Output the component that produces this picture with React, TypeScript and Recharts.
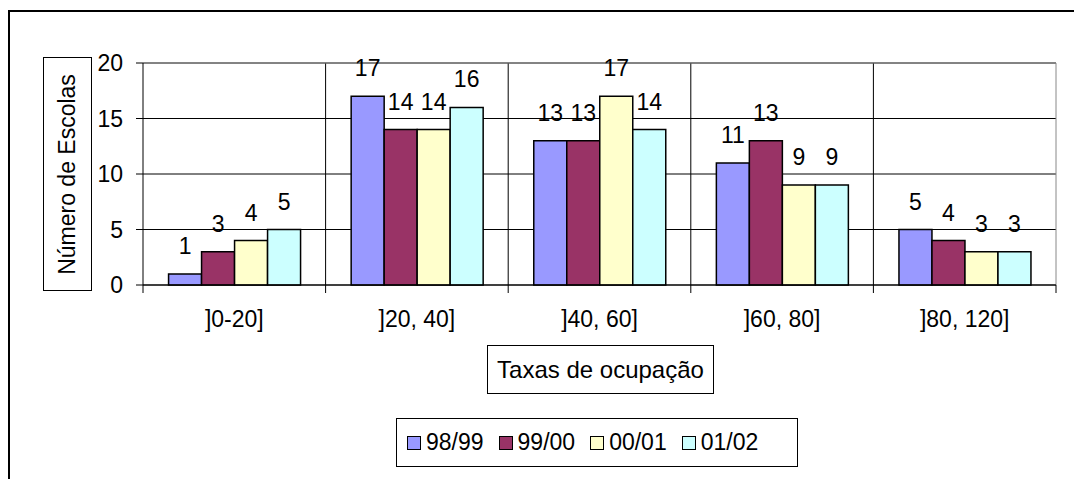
import { BarChart, Bar, XAxis, YAxis, CartesianGrid, LabelList, Legend, ReferenceLine } from "recharts";

const FONT = '"Liberation Sans", Arial, sans-serif';

const categories = ["]0-20]", "]20, 40]", "]40, 60]", "]60, 80]", "]80, 120]"];
const s9899 = [1, 17, 13, 11, 5];
const s9900 = [3, 14, 13, 13, 4];
const s0001 = [4, 14, 17, 9, 3];
const s0102 = [5, 16, 14, 9, 3];
const yTicks = [0, 5, 10, 15, 20];

const series = [
  { key: "98/99", color: "#9999FF" },
  { key: "99/00", color: "#993366" },
  { key: "00/01", color: "#FFFFCC" },
  { key: "01/02", color: "#CCFFFF" },
];

const data = categories.map((c, i) => ({
  cat: c,
  "98/99": s9899[i],
  "99/00": s9900[i],
  "00/01": s0001[i],
  "01/02": s0102[i],
}));

const TICK_SIZE = 8;
const TICK_MARGIN = 18;

// tick marks sit on the category boundaries, labels in the middle
function XTick(props: any) {
  const { x, y, payload, index, visibleTicksCount } = props;
  const half = payload && payload.offset ? payload.offset : 0;
  const axisY = y - TICK_MARGIN - TICK_SIZE;
  const last = index === visibleTicksCount - 1;
  return (
    <g>
      <line x1={x - half} x2={x - half} y1={axisY} y2={axisY + TICK_SIZE} stroke="#000" />
      {last && <line x1={x + half} x2={x + half} y1={axisY} y2={axisY + TICK_SIZE} stroke="#000" />}
      <text x={x} y={y} dy="0.71em" textAnchor="middle" fontSize={23} fill="#000">
        {payload.value}
      </text>
    </g>
  );
}

function boundaries({ xAxis, offset }: any, inner: boolean) {
  const out: number[] = [];
  if (xAxis && typeof xAxis.scale === "function" && xAxis.scale.bandwidth) {
    const s = xAxis.scale;
    if (inner) categories.slice(1).forEach((c) => out.push(s(c)));
    else out.push(s(categories[categories.length - 1]) + s.bandwidth());
    return out;
  }
  const w = offset.width / categories.length;
  if (inner) for (let i = 1; i < categories.length; i++) out.push(offset.left + i * w);
  else out.push(offset.left + offset.width);
  return out;
}

// keep the series order (the default legend sorts by name)
function LegendBox() {
  return (
    <div style={{ display: "flex", alignItems: "center", height: "100%", paddingLeft: 10, gap: 15 }}>
      {series.map((p) => (
        <div key={p.key} style={{ display: "flex", alignItems: "center" }}>
          <span
            style={{
              display: "inline-block",
              width: 12,
              height: 12,
              background: p.color,
              border: "1.5px solid #000",
              marginRight: 5,
            }}
          />
          <span style={{ fontSize: 23, color: "#000" }}>{p.key}</span>
        </div>
      ))}
    </div>
  );
}

export default function App() {
  return (
    <div
      style={{
        position: "absolute",
        left: 0,
        top: 0,
        width: 1074,
        height: 479,
        overflow: "hidden",
        background: "#fff",
        fontFamily: FONT,
      }}
    >
      <div
        style={{
          position: "absolute",
          left: 8,
          top: 10,
          width: 1100,
          height: 520,
          border: "2px solid #000",
        }}
      />
      <div
        style={{
          position: "absolute",
          left: 43,
          top: 57,
          width: 49,
          height: 234,
          border: "1px solid #000",
          boxSizing: "border-box",
          background: "#fff",
          display: "flex",
          alignItems: "center",
          justifyContent: "center",
        }}
      >
        <span style={{ transform: "rotate(-90deg)", whiteSpace: "nowrap", fontSize: 23 }}>
          Número de Escolas
        </span>
      </div>
      <div
        style={{
          position: "absolute",
          left: 487,
          top: 345,
          width: 227,
          height: 49,
          border: "1px solid #000",
          boxSizing: "border-box",
          display: "flex",
          alignItems: "center",
          justifyContent: "center",
          fontSize: 24,
        }}
      >
        Taxas de ocupação
      </div>
      <div style={{ position: "absolute", left: 0, top: 0 }}>
        <BarChart
          width={1074}
          height={479}
          data={data}
          margin={{ top: 63, right: 18, left: 103, bottom: 164 }}
          barCategoryGap="14%"
          barGap={0}
        >
          <CartesianGrid
            stroke="#000"
            vertical={true}
            verticalCoordinatesGenerator={(p: any) => boundaries(p, true)}
          />
          <CartesianGrid
            stroke="#888"
            horizontal={false}
            verticalCoordinatesGenerator={(p: any) => boundaries(p, false)}
          />
          <ReferenceLine y={20} stroke="#888" />
          <XAxis
            dataKey="cat"
            height={30}
            axisLine={{ stroke: "#000" }}
            tickLine={false}
            tickSize={TICK_SIZE}
            tickMargin={TICK_MARGIN}
            tick={<XTick />}
            interval={0}
          />
          <YAxis
            width={40}
            domain={[0, 20]}
            ticks={yTicks}
            interval={0}
            axisLine={{ stroke: "#000" }}
            tickLine={{ stroke: "#000" }}
            tickSize={7}
            tickMargin={13}
            tick={{ fontSize: 23, fill: "#000" }}
          />
          <Legend
            layout="horizontal"
            verticalAlign="middle"
            align="center"
            content={<LegendBox />}
            wrapperStyle={{
              left: 396,
              top: 418,
              width: 402,
              height: 49,
              border: "1px solid #000",
              boxSizing: "border-box",
              background: "#fff",
            }}
          />
          {series.map((s) => (
            <Bar
              key={s.key}
              dataKey={s.key}
              fill={s.color}
              stroke="#000"
              strokeWidth={1.5}
              isAnimationActive={false}
            >
              <LabelList dataKey={s.key} position="top" offset={20} fontSize={23} fill="#000" />
            </Bar>
          ))}
        </BarChart>
      </div>
    </div>
  );
}
